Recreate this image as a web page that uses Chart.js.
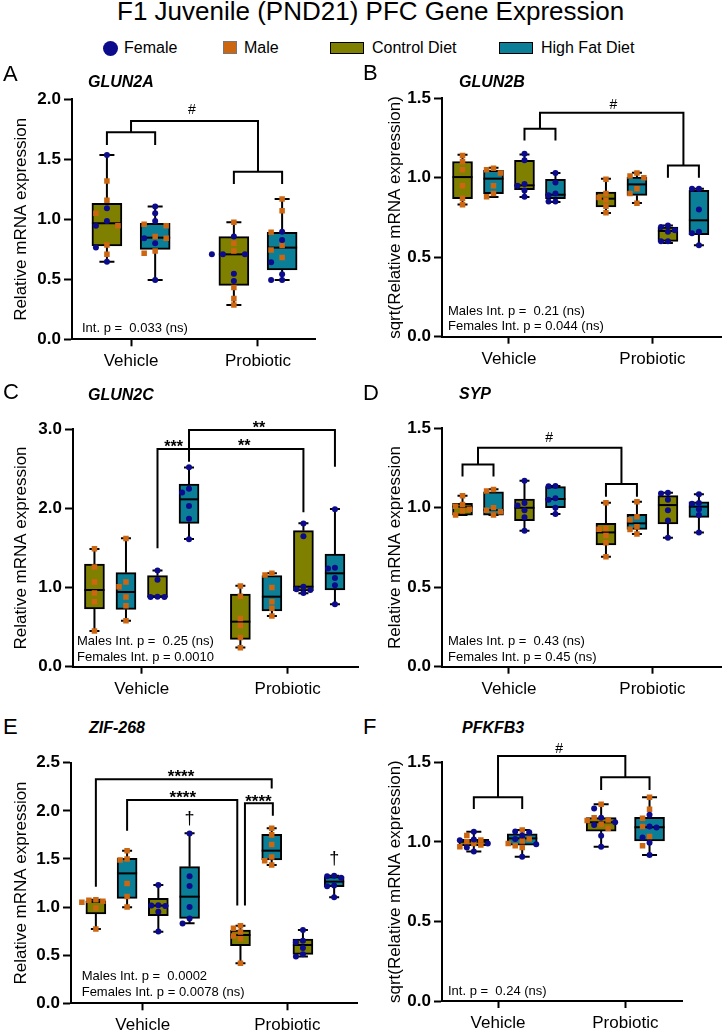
<!DOCTYPE html>
<html>
<head>
<meta charset="utf-8">
<script src="https://cdn.jsdelivr.net/npm/chart.js@4.4.0/dist/chart.umd.min.js"></script>
<style>
  body { margin: 0; background: #fff; }
  #fig { position: relative; width: 725px; height: 1031px; overflow: hidden; font-family: "Liberation Sans", Arial, sans-serif; color: #000; }
  .t { position: absolute; white-space: nowrap; line-height: 1; }
  .sw { position: absolute; }
  canvas { position: absolute; }
  .letter { font-size: 22px; }
  .gene { font-size: 16px; font-weight: bold; font-style: italic; }
  .leg { font-size: 16px; top: 40px; }
</style>
</head>
<body>
<div id="fig">
  <canvas id="cA" width="362" height="300" style="left:0;top:85px"></canvas>
  <canvas id="cB" width="363" height="300" style="left:362px;top:85px"></canvas>
  <canvas id="cC" width="362" height="300" style="left:0;top:400px"></canvas>
  <canvas id="cD" width="363" height="300" style="left:362px;top:400px"></canvas>
  <canvas id="cE" width="362" height="291" style="left:0;top:740px"></canvas>
  <canvas id="cF" width="363" height="291" style="left:362px;top:740px"></canvas>

  <div class="t" style="left:117px;top:-2px;font-size:26px">F1 Juvenile (PND21) PFC Gene Expression</div>

  <!-- legend -->
  <div class="sw" style="left:103px;top:40.5px;width:15px;height:15px;border-radius:50%;background:#0b0b8c"></div>
  <div class="t leg" style="left:124px">Female</div>
  <div class="sw" style="left:223px;top:41px;width:12px;height:11px;background:#cc6611;border:1px solid #777"></div>
  <div class="t leg" style="left:244px">Male</div>
  <div class="sw" style="left:330px;top:42px;width:32px;height:10px;background:#7f7f00;border:1.5px solid #000"></div>
  <div class="t leg" style="left:372px">Control Diet</div>
  <div class="sw" style="left:499px;top:42px;width:32px;height:10px;background:#0b7f97;border:1.5px solid #000"></div>
  <div class="t leg" style="left:541px">High Fat Diet</div>

  <!-- panel letters and gene names -->
  <div class="t letter" style="left:3px;top:63px">A</div>
  <div class="t gene" style="left:88px;top:74px">GLUN2A</div>
  <div class="t letter" style="left:363px;top:62px">B</div>
  <div class="t gene" style="left:459px;top:74px">GLUN2B</div>
  <div class="t letter" style="left:3px;top:381px">C</div>
  <div class="t gene" style="left:88px;top:387px">GLUN2C</div>
  <div class="t letter" style="left:363px;top:382px">D</div>
  <div class="t gene" style="left:459px;top:386px">SYP</div>
  <div class="t letter" style="left:3px;top:716px">E</div>
  <div class="t gene" style="left:89px;top:720px">ZIF-268</div>
  <div class="t letter" style="left:363px;top:716px">F</div>
  <div class="t gene" style="left:462px;top:720px">PFKFB3</div>
</div>

<script>
// groupes sur l'axe x
const groups = ['Vehicle', 'Probiotic'];
const dietColor = { C: '#7f7f00', H: '#0b7f97' };
const femaleColor = '#0b0b8c';
const maleColor = '#cc6611';

// panneaux A et F : sexes regroupes, ordre = Vehicle/Control, Vehicle/HFD, Probiotic/Control, Probiotic/HFD
const pooledDiet = ['C', 'H', 'C', 'H'];
const pooledPos = [0.81, 1.19, 1.81, 2.19];
// panneaux B a E : males puis femelles dans chaque traitement
const splitDiet = ['C', 'H', 'C', 'H', 'C', 'H', 'C', 'H'];
const splitSex = ['M', 'M', 'F', 'F', 'M', 'M', 'F', 'F'];
const splitPos = [0.676, 0.892, 1.108, 1.324, 1.676, 1.892, 2.108, 2.324];

// boites : [min, q1, mediane, q3, max]
// A - GLUN2A
const glun2aBox = [
  [0.647, 0.778, 0.967, 1.133, 1.536],
  [0.494, 0.750, 0.847, 0.967, 1.106],
  [0.286, 0.450, 0.708, 0.856, 0.975],
  [0.494, 0.578, 0.764, 0.892, 1.169]
];
const glun2aFemale = [
  [1.536, 1.092, 0.986, 0.947, 0.764, 0.647],
  [1.106, 1.050, 0.986, 0.842, 0.800, 0.494],
  [0.856, 0.708, 0.708, 0.708, 0.547, 0.486],
  [0.897, 0.828, 0.642, 0.542, 0.494, 0.494]
];
const glun2aMale = [
  [1.319, 1.158, 1.050, 0.947, 0.786, 0.708],
  [0.958, 0.947, 0.856, 0.842, 0.736, 0.717],
  [0.975, 0.800, 0.736, 0.431, 0.339, 0.286],
  [1.169, 1.072, 0.892, 0.781, 0.744, 0.681]
];

// B - GLUN2B
const glun2bBox = [
  [0.831, 0.868, 1.004, 1.102, 1.144],
  [0.879, 0.900, 0.994, 1.046, 1.063],
  [0.879, 0.925, 0.952, 1.109, 1.146],
  [0.847, 0.868, 0.893, 0.990, 1.029],
  [0.778, 0.816, 0.868, 0.910, 0.994],
  [0.841, 0.889, 0.958, 1.004, 1.031],
  [0.590, 0.600, 0.665, 0.690, 0.700],
  [0.575, 0.642, 0.732, 0.920, 0.931]
];
const glun2bPts = [
  [1.14, 1.10, 1.05, 0.95, 0.87, 0.83],
  [1.06, 1.05, 1.03, 0.95, 0.90, 0.88],
  [1.15, 1.11, 0.96, 0.95, 0.92, 0.88],
  [1.03, 0.97, 0.90, 0.89, 0.85, 0.85],
  [0.99, 0.90, 0.875, 0.86, 0.82, 0.78],
  [1.03, 1.01, 1.00, 0.93, 0.90, 0.84],
  [0.70, 0.69, 0.67, 0.66, 0.60, 0.60],
  [0.93, 0.93, 0.80, 0.66, 0.65, 0.575]
];

// C - GLUN2C
const glun2cBox = [
  [0.451, 0.729, 0.969, 1.298, 1.488],
  [0.581, 0.725, 0.944, 1.188, 1.622],
  [0.880, 0.880, 0.885, 1.150, 1.215],
  [1.614, 1.812, 2.115, 2.309, 2.516],
  [0.244, 0.346, 0.569, 0.919, 1.024],
  [0.640, 0.704, 0.885, 1.150, 1.180],
  [0.927, 0.957, 1.011, 1.719, 1.812],
  [0.788, 0.969, 1.180, 1.424, 1.993]
];
const glun2cPts = [
  [1.49, 1.26, 1.07, 0.93, 0.82, 0.45],
  [1.62, 1.07, 1.01, 0.88, 0.77, 0.58],
  [1.215, 1.10, 0.885, 0.88, 0.88],
  [2.52, 2.25, 2.20, 2.03, 1.87, 1.61],
  [1.02, 0.89, 0.61, 0.52, 0.37, 0.24],
  [1.18, 1.16, 1.00, 0.82, 0.74, 0.64],
  [1.81, 1.65, 1.01, 0.98, 0.97, 0.93],
  [1.99, 1.25, 1.24, 1.12, 1.03, 0.79]
];

// D - SYP
const sypBox = [
  [0.954, 0.954, 1.007, 1.028, 1.076],
  [0.954, 0.954, 0.986, 1.101, 1.116],
  [0.856, 0.919, 1.000, 1.055, 1.170],
  [0.961, 1.000, 1.055, 1.133, 1.137],
  [0.692, 0.766, 0.845, 0.902, 1.032],
  [0.835, 0.864, 0.902, 0.959, 1.038],
  [0.812, 0.898, 1.017, 1.076, 1.095],
  [0.845, 0.940, 1.007, 1.038, 1.085]
];
const sypPts = [
  [1.075, 1.02, 1.01, 0.99, 0.98, 0.955],
  [1.115, 1.105, 1.00, 0.985, 0.975, 0.955],
  [1.17, 1.03, 1.015, 0.985, 0.94, 0.856],
  [1.137, 1.135, 1.06, 1.05, 1.00, 0.961],
  [1.032, 0.87, 0.865, 0.825, 0.78, 0.692],
  [1.038, 0.944, 0.925, 0.88, 0.864, 0.835],
  [1.095, 1.09, 1.05, 0.985, 0.92, 0.812],
  [1.085, 1.03, 1.025, 0.99, 0.955, 0.845]
];

// E - ZIF-268
const zif268Box = [
  [0.772, 0.930, 1.055, 1.065, 1.075],
  [0.997, 1.090, 1.350, 1.506, 1.586],
  [0.744, 0.911, 1.015, 1.090, 1.229],
  [0.831, 0.883, 1.108, 1.420, 1.766],
  [0.416, 0.599, 0.710, 0.762, 0.807],
  [1.437, 1.489, 1.586, 1.756, 1.818],
  [0.485, 0.509, 0.606, 0.668, 0.762],
  [1.101, 1.212, 1.264, 1.316, 1.326]
];
const zif268Pts = [
  [1.075, 1.07, 1.06, 1.05, 0.99, 0.772],
  [1.585, 1.50, 1.49, 1.245, 1.11, 1.00],
  [1.23, 1.02, 1.015, 1.01, 0.95, 0.745],
  [1.765, 1.32, 1.22, 1.00, 0.88, 0.83],
  [0.807, 0.78, 0.74, 0.70, 0.67, 0.416],
  [1.818, 1.75, 1.65, 1.52, 1.48, 1.437],
  [0.762, 0.65, 0.635, 0.575, 0.51, 0.485],
  [1.326, 1.32, 1.305, 1.225, 1.215, 1.101]
];

// F - PFKFB3
const pfkfb3Box = [
  [0.939, 0.976, 1.001, 1.016, 1.064],
  [0.907, 0.980, 1.022, 1.050, 1.075],
  [0.970, 1.068, 1.123, 1.152, 1.236],
  [0.918, 1.006, 1.092, 1.154, 1.280]
];
const pfkfb3Female = [
  [1.064, 1.015, 1.01, 0.99, 0.965, 0.939],
  [1.065, 1.06, 1.04, 1.018, 0.985, 0.907],
  [1.21, 1.152, 1.123, 1.106, 1.039, 0.97],
  [1.17, 1.096, 1.09, 1.027, 0.995, 0.918]
];
const pfkfb3Male = [
  [1.04, 1.012, 1.00, 0.99, 0.98, 0.97],
  [1.075, 1.018, 1.005, 0.99, 0.975, 0.965],
  [1.236, 1.152, 1.138, 1.135, 1.11, 1.085],
  [1.28, 1.205, 1.148, 1.096, 1.033, 0.976]
];

// crochets de comparaison (x en position de groupe, y en valeur)
const glun2aBrackets = [
  [[0.81, 1.62], [0.81, 1.725], [1.19, 1.725], [1.19, 1.62]],
  [[1.81, 1.294], [1.81, 1.397], [2.19, 1.397], [2.19, 1.294]],
  [[1.0, 1.725], [1.0, 1.819], [2.0, 1.819], [2.0, 1.397]]
];
const glun2bBrackets = [
  [[1.108, 1.234], [1.108, 1.308], [1.324, 1.308], [1.324, 1.234]],
  [[2.108, 1.0], [2.108, 1.077], [2.324, 1.077], [2.324, 1.0]],
  [[1.216, 1.308], [1.216, 1.408], [2.216, 1.408], [2.216, 1.077]]
];
const glun2cBrackets = [
  [[1.108, 1.496], [1.108, 2.752], [2.108, 2.752], [2.108, 1.951]],
  [[1.324, 2.59], [1.324, 2.99], [2.324, 2.99], [2.324, 2.528]]
];
const sypBrackets = [
  [[0.676, 1.196], [0.676, 1.273], [0.892, 1.273], [0.892, 1.196]],
  [[1.676, 1.07], [1.676, 1.15], [1.892, 1.15], [1.892, 1.07]],
  [[0.784, 1.273], [0.784, 1.378], [1.784, 1.378], [1.784, 1.15]]
];
const zif268Brackets = [
  [[0.676, 1.212], [0.676, 2.327], [1.892, 2.327], [1.892, 2.233]],
  [[0.892, 1.794], [0.892, 2.112], [1.654, 2.112], [1.654, 1.015]],
  [[1.707, 1.015], [1.707, 2.078], [1.900, 2.078], [1.900, 1.95]]
];
const pfkfb3Brackets = [
  [[0.81, 1.207], [0.81, 1.28], [1.19, 1.28], [1.19, 1.207]],
  [[1.81, 1.326], [1.81, 1.406], [2.19, 1.406], [2.19, 1.326]],
  [[1.0, 1.28], [1.0, 1.54], [2.0, 1.54], [2.0, 1.406]]
];

Chart.defaults.font.family = "'Liberation Sans', Arial, sans-serif";
Chart.defaults.color = '#000';

// petit essaim : ecarte les points qui se chevauchent, au plus maxK colonnes de chaque cote
function swarm(vals, pxY, step, dot, maxK) {
  const ks = [0];
  for (let k = 1; k <= maxK; k++) ks.push(-k, k);
  const order = vals.map((v, i) => i).sort((a, b) => vals[b] - vals[a]);
  const placed = [];
  const out = vals.map(() => 0);
  order.forEach(i => {
    let best = 0, bestD = -1;
    for (const k of ks) {
      let d = Infinity;
      placed.forEach(q => { if (q.k === k) d = Math.min(d, Math.abs(q.v - vals[i]) * pxY); });
      if (d >= dot) { best = k; break; }
      if (d > bestD) { bestD = d; best = k; }
    }
    placed.push({ k: best, v: vals[i] });
    out[i] = best * step;
  });
  return out;
}

function makePanel(p) {
  const pxY = (p.area[3] - p.area[1]) / p.ymax;
  const pxX = (p.area[2] - p.area[0]) / (p.xmax - p.xmin);
  const fem = [], mal = [];
  p.box.forEach((b, i) => {
    const f = p.female[i], m = p.male[i];
    const vals = f.concat(m);
    const offs = swarm(vals, pxY, p.step, 5.5, 2);
    vals.forEach((v, j) => (j < f.length ? fem : mal).push({ x: p.pos[i] + offs[j] / pxX, y: v }));
  });

  const extras = {
    id: 'extras',
    beforeDatasetsDraw(chart) {
      const { ctx, scales: { x, y } } = chart;
      ctx.save();
      ctx.strokeStyle = '#000';
      ctx.lineWidth = 2;
      p.box.forEach((b, i) => {
        const cx = x.getPixelForValue(p.pos[i]);
        const half = p.barPx * 0.25;
        const yMin = y.getPixelForValue(b[0]), yMax = y.getPixelForValue(b[4]);
        ctx.beginPath();
        ctx.moveTo(cx, y.getPixelForValue(b[1])); ctx.lineTo(cx, yMin);
        ctx.moveTo(cx, y.getPixelForValue(b[3])); ctx.lineTo(cx, yMax);
        ctx.moveTo(cx - half, yMin); ctx.lineTo(cx + half, yMin);
        ctx.moveTo(cx - half, yMax); ctx.lineTo(cx + half, yMax);
        ctx.stroke();
      });
      ctx.restore();
    },
    afterDatasetDraw(chart, args) {
      if (args.index !== 0) return;
      const { ctx, scales: { x, y } } = chart;
      ctx.save();
      ctx.strokeStyle = '#000';
      ctx.lineWidth = 2;
      p.box.forEach((b, i) => {
        const cx = x.getPixelForValue(p.pos[i]);
        const my = y.getPixelForValue(b[2]);
        ctx.beginPath();
        ctx.moveTo(cx - p.barPx / 2, my); ctx.lineTo(cx + p.barPx / 2, my);
        ctx.stroke();
      });
      ctx.restore();
    },
    afterDatasetsDraw(chart) {
      const { ctx, chartArea, scales: { x, y } } = chart;
      ctx.save();
      ctx.strokeStyle = '#000';
      ctx.lineWidth = 2;
      ctx.lineJoin = 'miter';
      p.brackets.forEach(line => {
        ctx.beginPath();
        line.forEach((pt, k) => {
          const px = x.getPixelForValue(pt[0]), py = y.getPixelForValue(pt[1]);
          if (k === 0) ctx.moveTo(px, py); else ctx.lineTo(px, py);
        });
        ctx.stroke();
      });
      ctx.fillStyle = '#000';
      ctx.textAlign = 'center';
      ctx.textBaseline = 'alphabetic';
      p.marks.forEach(m => {
        let size = 14, weight = 'normal';
        if (m.t.indexOf('*') >= 0) { size = m.t.length > 3 ? 17 : 16; weight = 'bold'; }
        if (m.t === '†') size = 18;
        ctx.font = weight + ' ' + size + "px 'Liberation Sans', Arial, sans-serif";
        const mt = ctx.measureText(m.t);
        const yc = y.getPixelForValue(m.y);
        ctx.fillText(m.t, x.getPixelForValue(m.x), yc + (mt.actualBoundingBoxAscent - mt.actualBoundingBoxDescent) / 2);
      });
      ctx.textAlign = 'left';
      ctx.textBaseline = 'middle';
      ctx.font = "13px 'Liberation Sans', Arial, sans-serif";
      p.notes.forEach(n => ctx.fillText(n.t, chartArea.left + n.dx, chartArea.bottom - n.dy));
      ctx.restore();
    }
  };

  const c = p.canvas;
  const yW = p.area[0] - c[0];
  const padT = p.area[1] - c[1];
  const padR = c[0] + c[2] - p.area[2];
  const xH = c[1] + c[3] - p.area[3];

  new Chart(document.getElementById(p.id), {
    type: 'scatter',
    data: {
      datasets: [
        {
          type: 'bar',
          data: p.pos.map((x, i) => ({ x: x, y: [p.box[i][1], p.box[i][3]] })),
          backgroundColor: p.diet.map(d => dietColor[d]),
          borderColor: '#000',
          borderWidth: 2,
          borderSkipped: false,
          barThickness: p.barPx,
          grouped: false,
          order: 3
        },
        {
          type: 'scatter',
          data: fem,
          pointStyle: 'circle',
          pointRadius: 3,
          pointBackgroundColor: femaleColor,
          pointBorderWidth: 0,
          order: 1
        },
        {
          type: 'scatter',
          data: mal,
          pointStyle: 'rect',
          pointRadius: 3.9,
          pointBackgroundColor: maleColor,
          pointBorderWidth: 0,
          order: 2
        }
      ]
    },
    options: {
      responsive: false,
      animation: false,
      events: [],
      layout: { padding: { left: 0, top: padT, right: padR, bottom: 0 } },
      plugins: { legend: { display: false }, tooltip: { enabled: false } },
      scales: {
        x: {
          type: 'linear',
          min: p.xmin,
          max: p.xmax,
          offset: false,
          afterBuildTicks: s => { s.ticks = [{ value: 1 }, { value: 2 }]; },
          afterFit: s => { s.height = xH; },
          ticks: { callback: v => groups[Math.round(v) - 1], font: { size: 17 }, color: '#000', padding: 5, maxRotation: 0, autoSkip: false },
          grid: { display: true, offset: false, drawOnChartArea: false, drawTicks: true, tickLength: 7, tickColor: '#000', tickWidth: 2 },
          border: { display: true, color: '#000', width: 2 }
        },
        y: {
          type: 'linear',
          min: 0,
          max: p.ymax,
          afterFit: s => { s.width = yW; },
          ticks: { stepSize: p.ystep, callback: v => v.toFixed(1), font: { size: 17, weight: 'bold' }, color: '#000', padding: 3 },
          grid: { display: true, drawOnChartArea: false, drawTicks: true, tickLength: 8, tickColor: '#000', tickWidth: 2 },
          border: { display: true, color: '#000', width: 2 },
          title: { display: true, text: p.ytitle, font: { size: 17 }, color: '#000', padding: { top: p.titlePad, bottom: 0 } }
        }
      }
    },
    plugins: [extras]
  });
}

const bySex = (pts, s) => pts.map((v, i) => splitSex[i] === s ? v : []);

makePanel({
  id: 'cA', canvas: [0, 85, 362, 300], area: [72, 99.3, 315, 339.3],
  xmin: 0.535, xmax: 2.449, ymax: 2.0, ystep: 0.5, titlePad: 11.5,
  ytitle: 'Relative mRNA expression', pos: pooledPos, diet: pooledDiet, barPx: 30, step: 11,
  box: glun2aBox, female: glun2aFemale, male: glun2aMale, brackets: glun2aBrackets,
  marks: [{ x: 1.48, y: 1.917, t: '#' }],
  notes: [{ t: 'Int. p =  0.033 (ns)', dx: 10, dy: 11.3 }]
});
makePanel({
  id: 'cB', canvas: [362, 85, 363, 300], area: [442, 97.7, 724, 336.7],
  xmin: 0.533, xmax: 2.478, ymax: 1.5, ystep: 0.5, titlePad: 22.8,
  ytitle: 'sqrt(Relative mRNA expression)', pos: splitPos, diet: splitDiet, barPx: 20, step: 7,
  box: glun2bBox, female: bySex(glun2bPts, 'F'), male: bySex(glun2bPts, 'M'), brackets: glun2bBrackets,
  marks: [{ x: 1.727, y: 1.464, t: '#' }],
  notes: [{ t: 'Males Int. p =  0.21 (ns)', dx: 6, dy: 25.7 }, { t: 'Females Int. p = 0.044 (ns)', dx: 6, dy: 10 }]
});
makePanel({
  id: 'cC', canvas: [0, 400, 362, 300], area: [73, 429.3, 362, 666.7],
  xmin: 0.529, xmax: 2.482, ymax: 3.0, ystep: 1.0, titlePad: 11.5,
  ytitle: 'Relative mRNA expression', pos: splitPos, diet: splitDiet, barPx: 20, step: 7,
  box: glun2cBox, female: bySex(glun2cPts, 'F'), male: bySex(glun2cPts, 'M'), brackets: glun2cBrackets,
  marks: [{ x: 1.218, y: 2.82, t: '***' }, { x: 1.703, y: 2.83, t: '**' }, { x: 1.804, y: 3.055, t: '**' }],
  notes: [{ t: 'Males Int. p =  0.25 (ns)', dx: 4, dy: 25.7 }, { t: 'Females Int. p = 0.0010', dx: 4, dy: 9 }]
});
makePanel({
  id: 'cD', canvas: [362, 400, 363, 300], area: [442, 428.3, 724, 666.7],
  xmin: 0.533, xmax: 2.478, ymax: 1.5, ystep: 0.5, titlePad: 22.8,
  ytitle: 'Relative mRNA expression', pos: splitPos, diet: splitDiet, barPx: 20, step: 7,
  box: sypBox, female: bySex(sypPts, 'F'), male: bySex(sypPts, 'M'), brackets: sypBrackets,
  marks: [{ x: 1.28, y: 1.447, t: '#' }],
  notes: [{ t: 'Males Int. p =  0.43 (ns)', dx: 6, dy: 25.7 }, { t: 'Females Int. p = 0.45 (ns)', dx: 6, dy: 9 }]
});
makePanel({
  id: 'cE', canvas: [0, 740, 362, 291], area: [71, 762.7, 357, 1003.3],
  xmin: 0.504, xmax: 2.482, ymax: 2.5, ystep: 0.5, titlePad: 11.5,
  ytitle: 'Relative mRNA expression', pos: splitPos, diet: splitDiet, barPx: 20, step: 7,
  box: zif268Box, female: bySex(zif268Pts, 'F'), male: bySex(zif268Pts, 'M'), brackets: zif268Brackets,
  marks: [{ x: 1.265, y: 2.39, t: '****' }, { x: 1.277, y: 2.17, t: '****' }, { x: 1.80, y: 2.13, t: '****' },
          { x: 1.324, y: 1.92, t: '†' }, { x: 2.324, y: 1.506, t: '†' }],
  notes: [{ t: 'Males Int. p =  0.0002', dx: 10.7, dy: 26.6 }, { t: 'Females Int. p = 0.0078 (ns)', dx: 10.7, dy: 11 }]
});
makePanel({
  id: 'cF', canvas: [362, 740, 363, 291], area: [442, 762.3, 682, 1001],
  xmin: 0.56, xmax: 2.445, ymax: 1.5, ystep: 0.5, titlePad: 22.8,
  ytitle: 'sqrt(Relative mRNA expression)', pos: pooledPos, diet: pooledDiet, barPx: 30, step: 7,
  box: pfkfb3Box, female: pfkfb3Female, male: pfkfb3Male, brackets: pfkfb3Brackets,
  marks: [{ x: 1.48, y: 1.592, t: '#' }],
  notes: [{ t: 'Int. p =  0.24 (ns)', dx: 6, dy: 9.3 }]
});
</script>
</body>
</html>
